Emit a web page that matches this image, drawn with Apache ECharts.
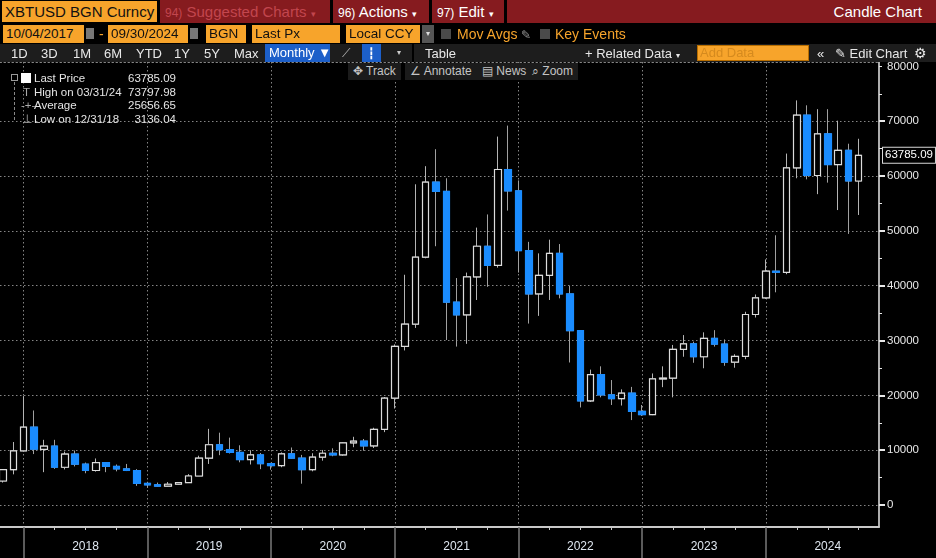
<!DOCTYPE html>
<html><head><meta charset="utf-8">
<script src="https://cdn.jsdelivr.net/npm/echarts@6/dist/echarts.min.js"></script>
<style>
html,body{margin:0;padding:0;background:#000;}
#wrap{position:relative;width:936px;height:558px;overflow:hidden;background:#000;font-family:'Liberation Sans',Arial,sans-serif;}
#chart{position:absolute;left:0;top:0;width:936px;height:558px;}
.a{position:absolute;white-space:nowrap;box-sizing:border-box;}
.ob{background:#f7a42b;color:#111;font-size:13.5px;line-height:18px;height:18px;padding-left:3px;}
.btn{color:#e8e8e8;font-size:13px;line-height:17px;top:45px;}
.tb{background:#1b1b1b;color:#c4c4c4;font-size:12px;line-height:16px;height:17px;top:63px;padding:0 5px;}
.lg{color:#e4e4e4;font-size:11.5px;line-height:13px;}
.lv{color:#e4e4e4;font-size:11.5px;line-height:13px;text-align:right;width:70px;}
</style></head>
<body><div id="wrap">
<div id="chart"></div>

<!-- row 1 -->
<div class="a" style="left:2px;top:1px;width:155px;height:21px;background:#f7a42b;color:#111;font-size:15px;line-height:21px;padding-left:3px;">XBTUSD BGN Curncy</div>
<div class="a" style="left:160px;top:0;width:776px;height:23px;background:#861b1f;"></div>
<div class="a" style="left:165px;top:0;color:#c2464e;font-size:15px;line-height:23px;"><span style="font-size:12px">94)</span> Suggested Charts <span style="font-size:9px">▾</span></div>
<div class="a" style="left:330px;top:0;width:3px;height:23px;background:#000;"></div>
<div class="a" style="left:338px;top:0;color:#fff;font-size:15px;line-height:23px;"><span style="font-size:12px">96)</span> Actions <span style="font-size:9px">▾</span></div>
<div class="a" style="left:429px;top:0;width:3px;height:23px;background:#000;"></div>
<div class="a" style="left:437px;top:0;color:#fff;font-size:15px;line-height:23px;"><span style="font-size:12px">97)</span> Edit <span style="font-size:9px">▾</span></div>
<div class="a" style="left:504px;top:0;width:3px;height:23px;background:#000;"></div>
<div class="a" style="right:14px;top:0;color:#fff;font-size:15px;line-height:23px;">Candle Chart</div>

<!-- row 2 -->
<div class="a ob" style="left:3px;top:25px;width:81px;">10/04/2017</div>
<div class="a" style="left:86px;top:28px;width:8px;height:11px;background:#777;"></div>
<div class="a" style="left:99px;top:24px;color:#f7a42b;font-size:14px;line-height:20px;">-</div>
<div class="a ob" style="left:108px;top:25px;width:80px;">09/30/2024</div>
<div class="a" style="left:190px;top:28px;width:8px;height:11px;background:#777;"></div>
<div class="a ob" style="left:206px;top:25px;width:40px;">BGN</div>
<div class="a ob" style="left:252px;top:25px;width:88px;">Last Px</div>
<div class="a ob" style="left:346px;top:25px;width:74px;">Local CCY</div>
<div class="a" style="left:422px;top:25px;width:12px;height:18px;background:#555;color:#ddd;font-size:8px;line-height:18px;text-align:center;">▾</div>
<div class="a" style="left:441px;top:29px;width:10px;height:10px;background:#4a4a4a;"></div>
<div class="a" style="left:457px;top:24px;color:#f7a42b;font-size:14px;line-height:20px;">Mov Avgs <span style="color:#999;font-size:12px">✎</span></div>
<div class="a" style="left:540px;top:29px;width:10px;height:10px;background:#4a4a4a;"></div>
<div class="a" style="left:555px;top:24px;color:#f7a42b;font-size:14px;line-height:20px;">Key Events</div>

<!-- row 3 -->
<div class="a" style="left:0;top:44px;width:936px;height:18px;background:#1d1d1d;"></div>
<div class="a btn" style="left:11px;">1D</div>
<div class="a btn" style="left:41px;">3D</div>
<div class="a btn" style="left:73px;">1M</div>
<div class="a btn" style="left:104px;">6M</div>
<div class="a btn" style="left:136px;">YTD</div>
<div class="a btn" style="left:174px;">1Y</div>
<div class="a btn" style="left:204px;">5Y</div>
<div class="a btn" style="left:234px;">Max</div>
<div class="a" style="left:265px;top:44px;width:65px;height:18px;background:#1c5fc9;color:#fff;font-size:13px;line-height:18px;padding-left:4px;">Monthly ▼</div>
<div class="a" style="left:342px;top:44px;color:#bbb;font-size:12px;line-height:18px;">⟋</div>
<div class="a" style="left:362px;top:44px;width:19px;height:18px;background:#1c5fc9;color:#fff;font-size:11px;line-height:18px;text-align:center;">┇</div>
<div class="a" style="left:397px;top:44px;color:#ccc;font-size:8px;line-height:18px;">▾</div>
<div class="a" style="left:412px;top:44px;width:2px;height:18px;background:#000;"></div>
<div class="a btn" style="left:425px;">Table</div>
<div class="a btn" style="left:585px;">+ Related Data <span style="font-size:8px">▾</span></div>
<div class="a" style="left:697px;top:45px;width:112px;height:16px;background:#f7a42b;border:1px solid #b86e00;color:#d58a1e;font-size:13px;line-height:14px;padding-left:2px;">Add Data</div>
<div class="a btn" style="left:817px;">«</div>
<div class="a btn" style="left:835px;">✎ Edit Chart</div>
<div class="a btn" style="left:914px;font-size:14px;">⚙</div>

<!-- row 4 -->
<div class="a tb" style="left:348px;">✥ Track</div>
<div class="a tb" style="left:405px;">∠ Annotate</div>
<div class="a tb" style="left:477px;">▤ News</div>
<div class="a tb" style="left:527px;">⌕ Zoom</div>

<!-- legend -->
<div class="a" style="left:11px;top:74px;width:7px;height:7px;border:1px solid #999;"></div>
<div class="a" style="left:14px;top:82px;width:1px;height:38px;border-left:1px dashed #888;"></div>
<div class="a" style="left:21px;top:73px;width:10px;height:10px;background:#fff;"></div>
<div class="a lg" style="left:34px;top:72px;">Last Price</div>
<div class="a lv" style="left:106px;top:72px;">63785.09</div>
<div class="a lg" style="left:23px;top:86px;color:#aaa;">T</div>
<div class="a lg" style="left:34px;top:86px;">High on 03/31/24</div>
<div class="a lv" style="left:106px;top:86px;">73797.98</div>
<div class="a lg" style="left:21px;top:99px;color:#aaa;">-+-</div>
<div class="a lg" style="left:34px;top:99px;">Average</div>
<div class="a lv" style="left:106px;top:99px;">25656.65</div>
<div class="a lg" style="left:22px;top:113px;color:#aaa;">⊥</div>
<div class="a lg" style="left:34px;top:113px;">Low on 12/31/18</div>
<div class="a lv" style="left:106px;top:113px;">3136.04</div>
</div>

<script>
// Monthly candles, Oct 2017 - Sep 2024 (month-end dates)
const months = [
 'Oct 2017','Nov 2017','Dec 2017',
 'Jan 2018','Feb 2018','Mar 2018','Apr 2018','May 2018','Jun 2018','Jul 2018','Aug 2018','Sep 2018','Oct 2018','Nov 2018','Dec 2018',
 'Jan 2019','Feb 2019','Mar 2019','Apr 2019','May 2019','Jun 2019','Jul 2019','Aug 2019','Sep 2019','Oct 2019','Nov 2019','Dec 2019',
 'Jan 2020','Feb 2020','Mar 2020','Apr 2020','May 2020','Jun 2020','Jul 2020','Aug 2020','Sep 2020','Oct 2020','Nov 2020','Dec 2020',
 'Jan 2021','Feb 2021','Mar 2021','Apr 2021','May 2021','Jun 2021','Jul 2021','Aug 2021','Sep 2021','Oct 2021','Nov 2021','Dec 2021',
 'Jan 2022','Feb 2022','Mar 2022','Apr 2022','May 2022','Jun 2022','Jul 2022','Aug 2022','Sep 2022','Oct 2022','Nov 2022','Dec 2022',
 'Jan 2023','Feb 2023','Mar 2023','Apr 2023','May 2023','Jun 2023','Jul 2023','Aug 2023','Sep 2023','Oct 2023','Nov 2023','Dec 2023',
 'Jan 2024','Feb 2024','Mar 2024','Apr 2024','May 2024','Jun 2024','Jul 2024','Aug 2024','Sep 2024'
];
const open = [
 4390,6450,9900,
 14200,10150,10750,6900,9300,7450,6300,7750,7050,6600,6300,3950,
 3700,3450,3800,4100,5300,8550,11000,10100,9600,8300,9150,7550,
 7200,9350,8550,6450,8750,9450,9150,11350,11650,10800,13800,19500,
 28950,33000,45200,58900,57200,37000,34700,41600,47200,43700,61200,57300,
 46400,38500,41900,45900,38500,31800,19000,23800,20100,19400,20400,17100,
 16500,23000,23150,28400,29400,27050,30400,29350,26050,27100,34750,37800,
 42650,42450,61500,71100,60100,67700,62100,64700,59100
];
const high = [
 6470,11500,19870,
 17250,11900,11900,9750,9950,7750,8500,7800,7400,7500,6550,4250,
 4100,4200,4100,5650,9000,13900,13200,12300,10900,10000,9500,7700,
 9600,10500,9150,9450,10050,10350,11450,12450,12050,14100,19700,29300,
 42000,58500,61800,64900,59600,41400,42400,50600,53000,67200,69200,59200,
 48000,45900,48400,47600,40000,31900,24700,25300,22800,21100,21550,18250,
 24000,25300,29200,31000,29800,31500,31900,30200,27500,35250,38400,44800,
 49200,64100,73797.98,72900,72200,72200,70100,65900,66800
];
const low = [
 4100,5600,9800,
 9300,6000,6600,6500,7050,5800,6100,6000,6150,6200,3500,3136.04,
 3350,3390,3700,4050,5300,7500,9100,9400,7800,7400,6550,6450,
 6900,8450,3900,6150,8100,8900,9000,10550,9900,10400,13300,17600,
 28200,32300,45000,47200,30100,28900,29400,37400,39800,43300,53700,42400,
 33100,34500,37400,37700,26000,17800,18800,19650,18250,18150,15500,16250,
 16400,21500,19650,27050,25950,24950,28900,25400,25050,26600,34200,37600,
 38800,42100,59600,59400,56700,58800,53800,49450,52900
];
const close = [
 6450,9900,14200,
 10200,10750,6900,9300,7450,6300,7750,7050,6600,6300,3950,3700,
 3450,3800,4100,5300,8550,11000,10100,9600,8300,9150,7550,7200,
 9350,8550,6450,8750,9450,9150,11350,11650,10800,13800,19500,28950,
 33000,45200,58900,57200,37000,34700,41600,47200,43700,61200,57300,46400,
 38500,41900,45900,38500,31800,19000,23800,20100,19400,20400,17100,16500,
 23000,23150,28400,29400,27050,30400,29350,26050,27100,34750,37800,42650,
 42450,61500,71100,60100,67700,62100,64700,59100,63785.09
];
const yearLabels = ['2018','2019','2020','2021','2022','2023','2024'];
const priceTicks = [0,10000,20000,30000,40000,50000,60000,70000,80000];
const minorTicks = [0,5000,10000,15000,20000,25000,30000,35000,40000,45000,50000,55000,60000,65000,70000,75000,80000];
const gridTicks = [0,10000,20000,30000,40000,50000,60000,70000];
const lastPrice = 63785.09;

// month index positions: December candles mark year boundaries, June candles carry year labels
const yearBoundaryIdx = [];
const quarterIdx = [];
const midYearIdx = [];
months.forEach((m, i) => {
  const mo = m.slice(0, 3);
  if (mo === 'Dec') yearBoundaryIdx.push(i);
  if (mo === 'Mar' || mo === 'Jun' || mo === 'Sep') quarterIdx.push(i);
  if (mo === 'Jun') midYearIdx.push(i);
});

const fullData = months.map((m, i) => [i, open[i], close[i], low[i], high[i]]);
const bodyData = months.map((m, i) => [i, open[i], close[i], Math.min(open[i], close[i]), Math.max(open[i], close[i])]);

const XMIN = -0.291, XMAX = 84.97;
const YMIN = -4000, YMAX = 80800;
const BLUE = '#1a8cff';
const GRID = '#858585';

const chart = echarts.init(document.getElementById('chart'), null, {renderer: 'canvas'});
chart.setOption({
  animation: false,
  backgroundColor: '#000',
  textStyle: {fontFamily: 'Liberation Sans, Arial, sans-serif'},
  grid: {left: 0, right: 57, top: 62, bottom: 31, containLabel: false},
  xAxis: [
    {
      type: 'value', min: XMIN, max: XMAX, position: 'bottom',
      axisLine: {show: true, onZero: false, lineStyle: {color: '#c8c8c8', width: 2}},
      axisTick: {show: true, customValues: quarterIdx, length: 3, lineStyle: {color: '#c8c8c8', width: 1}},
      axisLabel: {show: true, customValues: midYearIdx, margin: 14, color: '#dfe7f0', fontSize: 12,
        formatter: v => yearLabels[midYearIdx.indexOf(Math.round(v))] || ''},
      splitLine: {show: false}
    },
    {
      type: 'value', min: XMIN, max: XMAX, position: 'bottom',
      axisLine: {show: false, onZero: false},
      axisTick: {show: true, customValues: yearBoundaryIdx, length: 31, lineStyle: {color: '#7a7a7a', width: 1.5}},
      axisLabel: {show: false},
      splitLine: {show: true, lineStyle: {color: GRID, type: [1.5, 2.5], width: 1}}
    },
    {
      type: 'value', min: XMIN, max: XMAX, position: 'top',
      axisLine: {show: true, onZero: false, lineStyle: {color: GRID, type: [1.5, 2.5], width: 1}},
      axisTick: {show: false}, axisLabel: {show: false}, splitLine: {show: false}
    }
  ],
  yAxis: [
    {
      type: 'value', min: YMIN, max: YMAX, position: 'right',
      axisLine: {show: true, onZero: false, lineStyle: {color: '#e8e8e8', width: 1.5}},
      axisTick: {show: true, customValues: minorTicks, length: 3, lineStyle: {color: '#e8e8e8', width: 1}},
      axisLabel: {show: true, customValues: priceTicks, margin: 8, color: '#e8e8e8', fontSize: 11.5,
        formatter: v => String(v)},
      splitLine: {show: false}
    },
    {
      type: 'value', min: YMIN, max: YMAX, position: 'right',
      axisLine: {show: false, onZero: false},
      axisTick: {show: true, customValues: gridTicks, length: 6, lineStyle: {color: '#e8e8e8', width: 2}},
      axisLabel: {show: false},
      splitLine: {show: true, lineStyle: {color: GRID, type: [1.5, 2.5], width: 1}}
    }
  ],
  series: [
    {
      name: 'wicks', type: 'candlestick', xAxisIndex: 0, yAxisIndex: 0,
      encode: {x: 0, y: [1, 2, 3, 4]},
      barWidth: 7,
      itemStyle: {color: '#000', color0: BLUE, borderColor: '#b4b4b4', borderColor0: '#a0a0a0', borderWidth: 1},
      data: fullData
    },
    {
      name: 'bodies', type: 'candlestick', xAxisIndex: 0, yAxisIndex: 0,
      encode: {x: 0, y: [1, 2, 3, 4]},
      barWidth: 7,
      itemStyle: {color: '#000', color0: BLUE, borderColor: '#dcdcdc', borderColor0: BLUE, borderWidth: 1.2},
      data: bodyData,
      markLine: {
        silent: true, symbol: ['none', 'none'], clip: false,
        lineStyle: {color: 'rgba(0,0,0,0)', width: 1, type: 'solid'},
        data: [{yAxis: lastPrice}],
        label: {show: true, position: 'end', distance: 4, formatter: () => lastPrice.toFixed(2),
          color: '#ffffff', backgroundColor: '#000000', borderColor: '#d8d8d8', borderWidth: 1,
          padding: [2, 2, 1, 2], fontSize: 11.5, opacity: 1}
      }
    }
  ]
});
</script>
</body></html>
